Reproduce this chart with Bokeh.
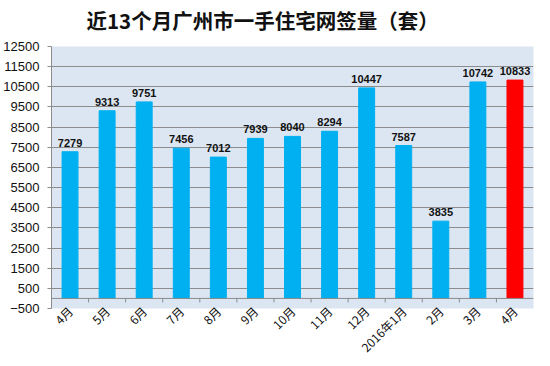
import numpy as np
from bokeh.plotting import figure
from bokeh.models import ColumnDataSource, Range1d, FixedTicker, Span, LabelSet, Title
from bokeh.core.properties import value
from bokeh.embed import file_html
from bokeh.resources import INLINE

title_text = "近13个月广州市一手住宅网签量（套）"
months = ["4月", "5月", "6月", "7月", "8月", "9月", "10月", "11月", "12月",
          "2016年1月", "2月", "3月", "4月"]
values = [7279, 9313, 9751, 7456, 7012, 7939, 8040, 8294, 10447, 7587, 3835, 10742, 10833]
bar_colors = ["#00B0F0"] * 12 + ["#FF0000"]
y_ticks = [-500, 500, 1500, 2500, 3500, 4500, 5500, 6500, 7500, 8500, 9500, 10500, 11500, 12500]

idx = list(range(len(months)))
src = ColumnDataSource(dict(x=idx, v=values, c=bar_colors, lab=[str(v) for v in values]))

p = figure(width=534, height=364, output_backend="svg", toolbar_location=None, title=None,
           x_range=Range1d(-0.5, len(months) - 0.5), y_range=Range1d(y_ticks[0], y_ticks[-1]),
           min_border_left=45, min_border_right=1, min_border_top=46, min_border_bottom=40)

spacer = Title(text=" ", text_font_size="9px", standoff=0)
p.add_layout(spacer, "above")
main_title = Title(text=title_text, align="left", offset=35, text_font="Noto Sans CJK SC",
                   text_font_size="20.5px", text_font_style="bold", text_color="#111111",
                   standoff=0)
p.add_layout(main_title, "above")

p.background_fill_color = "#DCE6F2"
p.border_fill_color = "white"
p.outline_line_color = None

p.vbar(x="x", top="v", bottom=0, width=0.43, color="c", source=src)

p.add_layout(Span(location=0, dimension="width", line_color="#8C8C8C", line_width=1))
bounds = [i + 0.5 for i in idx[:-1]]
p.segment(x0=bounds, y0=[0] * len(bounds), x1=bounds, y1=[-200] * len(bounds),
          line_color="#8C8C8C", line_width=1)

labels = LabelSet(x="x", y="v", text="lab", source=src, text_align="center",
                  text_baseline="bottom", y_offset=5, text_font=value("Liberation Sans"),
                  text_font_size=value("11px"), text_font_style="bold", text_color="#111111")
p.add_layout(labels)

p.yaxis.ticker = FixedTicker(ticks=y_ticks)
p.yaxis.major_label_text_font = "Liberation Sans"
p.yaxis.major_label_text_font_size = "13px"
p.yaxis.major_label_text_color = "#111111"
p.yaxis.axis_line_color = "#8C8C8C"
p.yaxis.major_tick_line_color = "#8C8C8C"
p.yaxis.major_tick_out = 4
p.yaxis.major_tick_in = 0
p.yaxis.minor_tick_line_color = None
p.yaxis.major_label_standoff = 8

p.xaxis.ticker = FixedTicker(ticks=idx)
p.xaxis.major_label_overrides = {i: m for i, m in enumerate(months)}
p.xaxis.major_label_orientation = np.pi / 4
p.xaxis.major_label_text_font = "Noto Sans CJK SC"
p.xaxis.major_label_text_font_size = "12px"
p.xaxis.major_label_text_color = "#111111"
p.xaxis.axis_line_color = None
p.xaxis.major_tick_line_color = None
p.xaxis.major_tick_out = 0
p.xaxis.major_tick_in = 0
p.xaxis.minor_tick_line_color = None
p.xaxis.major_label_standoff = 0

p.xgrid.grid_line_color = None
p.ygrid.grid_line_color = "#8C8C8C"
p.ygrid.grid_line_width = 1

open("out.html", "w").write(file_html(p, INLINE))
